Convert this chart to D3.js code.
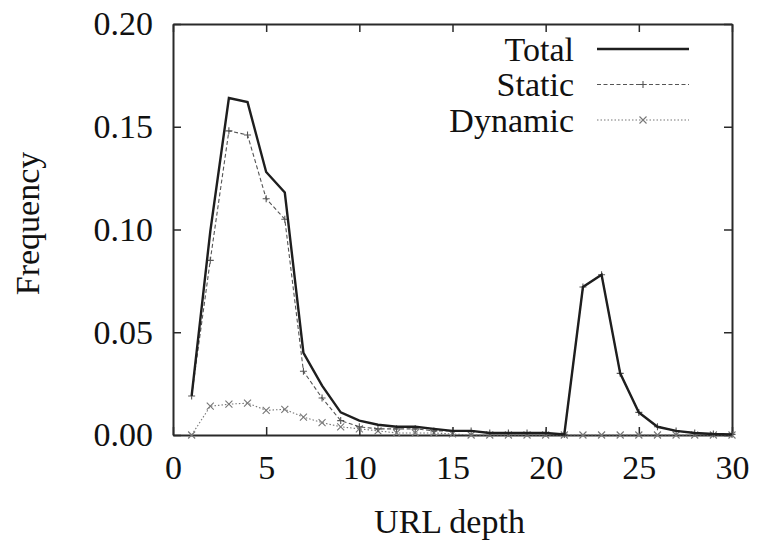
<!DOCTYPE html>
<html>
<head>
<meta charset="utf-8">
<script src="https://cdn.jsdelivr.net/npm/d3@7"></script>
<style>
  html, body { margin: 0; padding: 0; background: #fff; }
  svg text { font-family: "Liberation Serif", "DejaVu Serif", "Noto Serif", Times, serif; fill: #111; }
</style>
</head>
<body>
<svg id="chart" width="757" height="543"></svg>
<script>
// URL depth distribution: share of URLs at each path depth
const depth = [1, 2, 3, 4, 5, 6, 7, 8, 9, 10, 11, 12, 13, 14, 15,
               16, 17, 18, 19, 20, 21, 22, 23, 24, 25, 26, 27, 28, 29, 30];
const total = [0.019, 0.099, 0.164, 0.162, 0.128, 0.118, 0.040, 0.024, 0.011, 0.007,
               0.005, 0.004, 0.004, 0.003, 0.002, 0.002, 0.001, 0.001, 0.001, 0.001,
               0.0003, 0.072, 0.078, 0.030, 0.011, 0.004, 0.002, 0.001, 0.0005, 0.0003];
const staticUrls = [0.019, 0.085, 0.148, 0.146, 0.115, 0.105, 0.031, 0.018, 0.007, 0.004,
               0.003, 0.003, 0.003, 0.002, 0.002, 0.002, 0.001, 0.001, 0.001, 0.001,
               0.0003, 0.072, 0.078, 0.030, 0.011, 0.004, 0.002, 0.001, 0.0005, 0.0003];
const dynamicUrls = [0, 0.014, 0.015, 0.0155, 0.012, 0.0125, 0.0087, 0.006, 0.004, 0.003,
               0.002, 0.001, 0.001, 0.001, 0.0005, 0, 0, 0, 0, 0,
               0, 0, 0, 0, 0, 0, 0, 0, 0, 0];
const xTicks = [0, 5, 10, 15, 20, 25, 30];
const yTicks = [0.00, 0.05, 0.10, 0.15, 0.20];
const seriesNames = ["Total", "Static", "Dynamic"];

const svg = d3.select("#chart");
const margin = { left: 173, right: 25, top: 24, bottom: 108 };
const W = 757, H = 543;
const x = d3.scaleLinear().domain([0, 30]).range([margin.left, W - margin.right]);
const y = d3.scaleLinear().domain([0, 0.20]).range([H - margin.bottom, margin.top]);

const fontSize = 34;
const serif = "'Liberation Serif', 'DejaVu Serif', 'Noto Serif', Times, serif";
const axisColor = "#2a2a2a";

// Axes: ticks point inward, mirrored on top and right
function styleAxis(g) {
  g.attr("font-family", serif);
  g.selectAll(".domain").attr("stroke", axisColor).attr("stroke-width", 2);
  g.selectAll(".tick line").attr("stroke", axisColor).attr("stroke-width", 1.5);
  g.selectAll("text").attr("font-size", fontSize).attr("fill", "#111");
}

svg.append("g")
  .attr("transform", `translate(0,${y(0)})`)
  .call(d3.axisBottom(x).tickValues(xTicks).tickFormat(d3.format("d"))
        .tickSizeInner(-8).tickSizeOuter(0).tickPadding(20))
  .call(styleAxis);

svg.append("g")
  .attr("transform", `translate(0,${y(0.20)})`)
  .call(d3.axisTop(x).tickValues(xTicks).tickFormat("")
        .tickSizeInner(-8).tickSizeOuter(0))
  .call(styleAxis);

svg.append("g")
  .attr("transform", `translate(${x(0)},0)`)
  .call(d3.axisLeft(y).tickValues(yTicks).tickFormat(d3.format(".2f"))
        .tickSizeInner(-8).tickSizeOuter(0).tickPadding(20))
  .call(styleAxis);

svg.append("g")
  .attr("transform", `translate(${x(30)},0)`)
  .call(d3.axisRight(y).tickValues(yTicks).tickFormat("")
        .tickSizeInner(-8).tickSizeOuter(0))
  .call(styleAxis);

// Axis titles
svg.append("text")
  .attr("x", (x(0) + x(30)) / 2 - 3)
  .attr("y", 533)
  .attr("text-anchor", "middle")
  .attr("font-size", fontSize)
  .text("URL depth");

svg.append("text")
  .attr("transform", `translate(39,${(y(0) + y(0.2)) / 2 - 6}) rotate(-90)`)
  .attr("text-anchor", "middle")
  .attr("font-size", fontSize)
  .text("Frequency");

// Series definitions
const series = [
  { name: seriesNames[0], values: total, color: "#1e1e1e", width: 2.4, dash: null, marker: "plus", showMarker: false },
  { name: seriesNames[1], values: staticUrls, color: "#555", width: 1.1, dash: "4,2.5", marker: "plus", showMarker: true },
  { name: seriesNames[2], values: dynamicUrls, color: "#777", width: 1.1, dash: "1.5,2", marker: "cross", showMarker: true }
];

const line = d3.line().x(d => x(d[0])).y(d => y(d[1]));

function markerPath(type, cx, cy, r) {
  if (type === "plus") {
    return `M${cx - r},${cy}H${cx + r}M${cx},${cy - r}V${cy + r}`;
  }
  return `M${cx - r},${cy - r}L${cx + r},${cy + r}M${cx - r},${cy + r}L${cx + r},${cy - r}`;
}

// Draw dynamic first so Total stays on top
[series[2], series[1], series[0]].forEach(s => {
  const pts = depth.map((d, i) => [d, s.values[i]]);
  svg.append("path")
    .datum(pts)
    .attr("fill", "none")
    .attr("stroke", s.color)
    .attr("stroke-width", s.width)
    .attr("stroke-linejoin", "miter")
    .attr("stroke-dasharray", s.dash)
    .attr("d", line);
  if (s.showMarker) {
    svg.append("g").selectAll("path")
      .data(pts)
      .join("path")
      .attr("fill", "none")
      .attr("stroke", s.color)
      .attr("stroke-width", 1.1)
      .attr("d", d => markerPath(s.marker, x(d[0]), y(d[1]), 3.5));
  }
});

// Legend
const legend = svg.append("g");
const legendTextRight = 574;
const sampleX0 = 597, sampleX1 = 689;
series.forEach((s, i) => {
  const cy = 49 + i * 35.5;
  legend.append("text")
    .attr("x", legendTextRight)
    .attr("y", cy)
    .attr("dy", "0.35em")
    .attr("text-anchor", "end")
    .attr("font-size", fontSize)
    .text(s.name);
  legend.append("line")
    .attr("x1", sampleX0).attr("x2", sampleX1)
    .attr("y1", cy).attr("y2", cy)
    .attr("stroke", s.color)
    .attr("stroke-width", s.width)
    .attr("stroke-dasharray", s.dash);
  if (s.showMarker) {
    legend.append("path")
      .attr("fill", "none")
      .attr("stroke", s.color)
      .attr("stroke-width", 1.1)
      .attr("d", markerPath(s.marker, (sampleX0 + sampleX1) / 2, cy, 3.5));
  }
});
</script>
</body>
</html>
